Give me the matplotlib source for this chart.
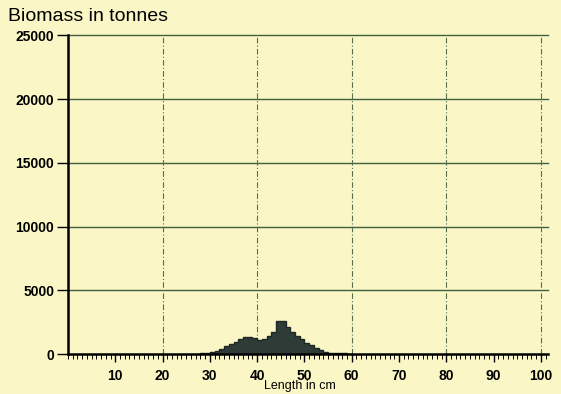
import matplotlib
matplotlib.use('Agg')
import matplotlib.pyplot as plt
from matplotlib.ticker import MultipleLocator

# length classes (cm, left edge of 1 cm bins) and biomass per class (tonnes)
length_cm = list(range(27, 60))
biomass_t = [30, 50, 80, 150, 240, 420, 630, 810, 970, 1150, 1340, 1340,
             1230, 1130, 1200, 1420, 1750, 2600, 2600, 2120, 1750, 1420,
             1150, 890, 680, 500, 310, 160, 110, 110, 60, 40, 20]
x_ticks = [10, 20, 30, 40, 50, 60, 70, 80, 90, 100]
y_ticks = [0, 5000, 10000, 15000, 20000, 25000]

BG   = '#fbf6c6'
FILL = '#2f3b36'
GRID = '#3f6040'

plt.rcParams['font.family'] = ['Liberation Sans', 'DejaVu Sans']

fig = plt.figure(figsize=(5.61, 3.94), dpi=100, facecolor=BG)
ax = fig.add_axes([0.1212, 0.1015, 0.8556, 0.8089], facecolor=BG)

edges = length_cm + [length_cm[-1] + 1]
ax.stairs(biomass_t, edges, fill=True, color=FILL, zorder=3)
ax.stairs(biomass_t, edges, color='#1e2824', lw=1.0, zorder=3)

ax.set_xlim(0, 101.5)
ax.set_ylim(0, 25000)
ax.set_xticks(x_ticks)
ax.set_yticks(y_ticks)
ax.xaxis.set_minor_locator(MultipleLocator(1))

# horizontal grid solid, vertical grid dashed every 20 cm
for y in y_ticks[1:]:
    ax.axhline(y, color=GRID, lw=1.0, zorder=1, clip_on=False)
for x in [20, 40, 60, 80, 100]:
    ax.axvline(x, color='#55704f', lw=0.8, ls=(0, (5, 2, 1, 2)), zorder=1)

for s in ['top', 'right']:
    ax.spines[s].set_visible(False)
ax.spines['left'].set_linewidth(1.8)
ax.spines['bottom'].set_linewidth(1.8)
ax.spines['left'].set_zorder(4)
ax.spines['bottom'].set_zorder(4)

ax.tick_params(axis='y', direction='out', length=8, width=1, labelsize=10, pad=2)
ax.tick_params(axis='x', which='major', direction='out', length=6, width=1,
               labelsize=10, pad=5)
ax.tick_params(axis='x', which='minor', direction='out', length=3.5, width=0.7)
for lab in ax.get_xticklabels() + ax.get_yticklabels():
    lab.set_fontweight('bold')

fig.text(0.015, 0.957, 'Biomass in tonnes', fontsize=14, ha='left', va='center')
fig.text(0.535, 0.02, 'Length in cm', fontsize=9, ha='center', va='center')

fig.savefig('out.png', dpi=100, facecolor=BG)
